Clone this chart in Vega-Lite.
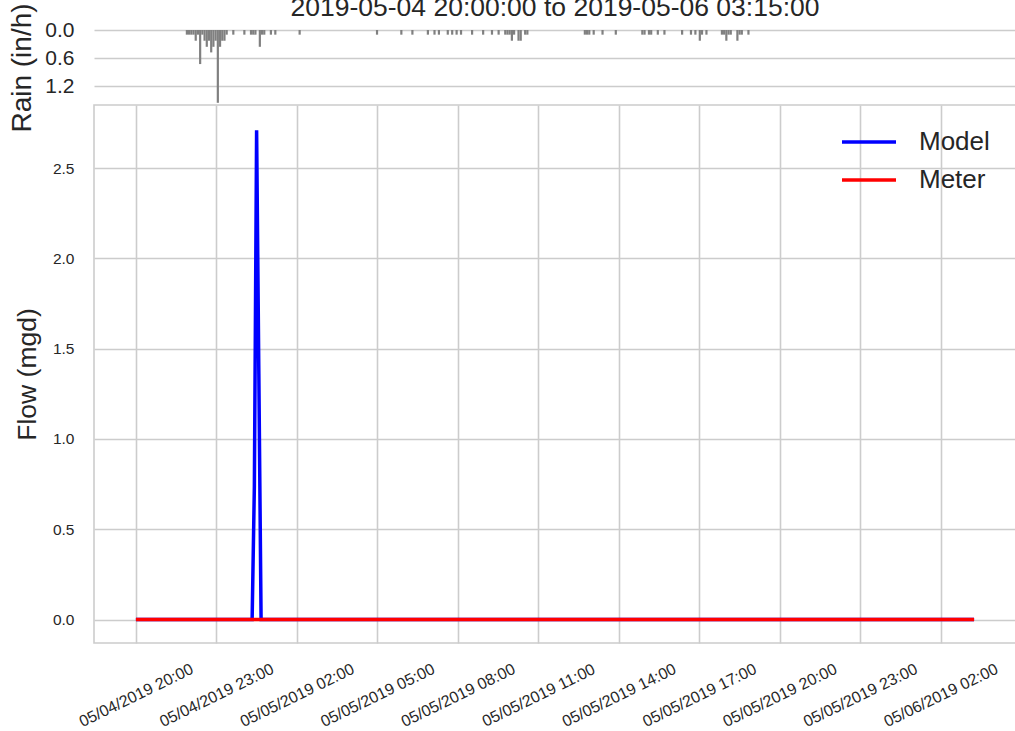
{
  "$schema": "https://vega.github.io/schema/vega-lite/v6.json",
  "padding": {"left": 8, "top": -5, "right": 0, "bottom": 0},
  "background": "white",
  "bounds": "flush",
  "spacing": 0,
  "config": {
    "font": "Liberation Sans",
    "view": {"stroke": null},
    "axis": {
      "labelColor": "#262626", "titleColor": "#262626", "gridColor": "#cccccc", "gridWidth": 1.6,
      "domain": false, "ticks": false, "tickSize": 0, "labelFont": "Liberation Sans", "titleFont": "Liberation Sans",
      "titleFontWeight": "normal"
    }
  },
  "datasets": {
    "flow": [
      {"t": "2019-05-04T20:00", "Model": 0, "Meter": 0},
      {"t": "2019-05-04T21:00", "Model": 0, "Meter": 0},
      {"t": "2019-05-04T22:00", "Model": 0, "Meter": 0},
      {"t": "2019-05-04T23:00", "Model": 0, "Meter": 0},
      {"t": "2019-05-05T00:00", "Model": 0, "Meter": 0},
      {"t": "2019-05-05T00:20", "Model": 0, "Meter": 0},
      {"t": "2019-05-05T00:25", "Model": 0.74, "Meter": 0},
      {"t": "2019-05-05T00:30", "Model": 2.71, "Meter": 0},
      {"t": "2019-05-05T00:35", "Model": 1.36, "Meter": 0},
      {"t": "2019-05-05T00:40", "Model": 0, "Meter": 0},
      {"t": "2019-05-05T01:00", "Model": 0, "Meter": 0},
      {"t": "2019-05-05T02:00", "Model": 0, "Meter": 0},
      {"t": "2019-05-05T03:00", "Model": 0, "Meter": 0},
      {"t": "2019-05-05T04:00", "Model": 0, "Meter": 0},
      {"t": "2019-05-05T05:00", "Model": 0, "Meter": 0},
      {"t": "2019-05-05T06:00", "Model": 0, "Meter": 0},
      {"t": "2019-05-05T07:00", "Model": 0, "Meter": 0},
      {"t": "2019-05-05T08:00", "Model": 0, "Meter": 0},
      {"t": "2019-05-05T09:00", "Model": 0, "Meter": 0},
      {"t": "2019-05-05T10:00", "Model": 0, "Meter": 0},
      {"t": "2019-05-05T11:00", "Model": 0, "Meter": 0},
      {"t": "2019-05-05T12:00", "Model": 0, "Meter": 0},
      {"t": "2019-05-05T13:00", "Model": 0, "Meter": 0},
      {"t": "2019-05-05T14:00", "Model": 0, "Meter": 0},
      {"t": "2019-05-05T15:00", "Model": 0, "Meter": 0},
      {"t": "2019-05-05T16:00", "Model": 0, "Meter": 0},
      {"t": "2019-05-05T17:00", "Model": 0, "Meter": 0},
      {"t": "2019-05-05T18:00", "Model": 0, "Meter": 0},
      {"t": "2019-05-05T19:00", "Model": 0, "Meter": 0},
      {"t": "2019-05-05T20:00", "Model": 0, "Meter": 0},
      {"t": "2019-05-05T21:00", "Model": 0, "Meter": 0},
      {"t": "2019-05-05T22:00", "Model": 0, "Meter": 0},
      {"t": "2019-05-05T23:00", "Model": 0, "Meter": 0},
      {"t": "2019-05-06T00:00", "Model": 0, "Meter": 0},
      {"t": "2019-05-06T01:00", "Model": 0, "Meter": 0},
      {"t": "2019-05-06T02:00", "Model": 0, "Meter": 0},
      {"t": "2019-05-06T03:00", "Model": 0, "Meter": 0},
      {"t": "2019-05-06T03:15", "Model": 0, "Meter": 0}
    ],
    "rain": [
      {"t": "2019-05-04T21:45", "r": 0.1},
      {"t": "2019-05-04T21:50", "r": 0.1},
      {"t": "2019-05-04T21:55", "r": 0.1},
      {"t": "2019-05-04T22:00", "r": 0.1},
      {"t": "2019-05-04T22:05", "r": 0.23},
      {"t": "2019-05-04T22:10", "r": 0.1},
      {"t": "2019-05-04T22:15", "r": 0.73},
      {"t": "2019-05-04T22:20", "r": 0.1},
      {"t": "2019-05-04T22:25", "r": 0.23},
      {"t": "2019-05-04T22:30", "r": 0.36},
      {"t": "2019-05-04T22:35", "r": 0.23},
      {"t": "2019-05-04T22:40", "r": 0.48},
      {"t": "2019-05-04T22:45", "r": 0.36},
      {"t": "2019-05-04T22:50", "r": 0.23},
      {"t": "2019-05-04T22:55", "r": 1.56},
      {"t": "2019-05-04T23:00", "r": 0.36},
      {"t": "2019-05-04T23:05", "r": 0.23},
      {"t": "2019-05-04T23:10", "r": 0.23},
      {"t": "2019-05-04T23:15", "r": 0.1},
      {"t": "2019-05-04T23:30", "r": 0.1},
      {"t": "2019-05-04T23:55", "r": 0.1},
      {"t": "2019-05-05T00:10", "r": 0.1},
      {"t": "2019-05-05T00:15", "r": 0.1},
      {"t": "2019-05-05T00:20", "r": 0.1},
      {"t": "2019-05-05T00:30", "r": 0.36},
      {"t": "2019-05-05T00:35", "r": 0.1},
      {"t": "2019-05-05T00:40", "r": 0.1},
      {"t": "2019-05-05T00:55", "r": 0.1},
      {"t": "2019-05-05T01:05", "r": 0.1},
      {"t": "2019-05-05T02:00", "r": 0.1},
      {"t": "2019-05-05T04:55", "r": 0.1},
      {"t": "2019-05-05T05:50", "r": 0.1},
      {"t": "2019-05-05T06:15", "r": 0.1},
      {"t": "2019-05-05T06:50", "r": 0.1},
      {"t": "2019-05-05T07:05", "r": 0.1},
      {"t": "2019-05-05T07:15", "r": 0.1},
      {"t": "2019-05-05T07:35", "r": 0.1},
      {"t": "2019-05-05T07:45", "r": 0.1},
      {"t": "2019-05-05T07:55", "r": 0.1},
      {"t": "2019-05-05T08:05", "r": 0.1},
      {"t": "2019-05-05T08:30", "r": 0.1},
      {"t": "2019-05-05T08:55", "r": 0.1},
      {"t": "2019-05-05T09:15", "r": 0.1},
      {"t": "2019-05-05T09:30", "r": 0.1},
      {"t": "2019-05-05T09:45", "r": 0.1},
      {"t": "2019-05-05T09:50", "r": 0.1},
      {"t": "2019-05-05T09:55", "r": 0.1},
      {"t": "2019-05-05T10:00", "r": 0.23},
      {"t": "2019-05-05T10:05", "r": 0.1},
      {"t": "2019-05-05T10:15", "r": 0.23},
      {"t": "2019-05-05T10:20", "r": 0.23},
      {"t": "2019-05-05T10:30", "r": 0.1},
      {"t": "2019-05-05T10:35", "r": 0.1},
      {"t": "2019-05-05T12:45", "r": 0.1},
      {"t": "2019-05-05T12:50", "r": 0.1},
      {"t": "2019-05-05T12:55", "r": 0.1},
      {"t": "2019-05-05T13:05", "r": 0.1},
      {"t": "2019-05-05T13:25", "r": 0.1},
      {"t": "2019-05-05T13:55", "r": 0.1},
      {"t": "2019-05-05T14:55", "r": 0.1},
      {"t": "2019-05-05T15:00", "r": 0.1},
      {"t": "2019-05-05T15:10", "r": 0.1},
      {"t": "2019-05-05T15:15", "r": 0.1},
      {"t": "2019-05-05T15:30", "r": 0.1},
      {"t": "2019-05-05T15:45", "r": 0.1},
      {"t": "2019-05-05T16:25", "r": 0.1},
      {"t": "2019-05-05T16:45", "r": 0.1},
      {"t": "2019-05-05T16:55", "r": 0.1},
      {"t": "2019-05-05T17:05", "r": 0.23},
      {"t": "2019-05-05T17:10", "r": 0.1},
      {"t": "2019-05-05T17:20", "r": 0.1},
      {"t": "2019-05-05T17:55", "r": 0.1},
      {"t": "2019-05-05T18:00", "r": 0.1},
      {"t": "2019-05-05T18:05", "r": 0.23},
      {"t": "2019-05-05T18:10", "r": 0.1},
      {"t": "2019-05-05T18:15", "r": 0.1},
      {"t": "2019-05-05T18:30", "r": 0.23},
      {"t": "2019-05-05T18:35", "r": 0.1},
      {"t": "2019-05-05T18:40", "r": 0.1},
      {"t": "2019-05-05T18:55", "r": 0.1}
    ]
  },
  "vconcat": [
    {
      "width": 922,
      "height": 75,
      "title": {"text": "2019-05-04 20:00:00 to 2019-05-06 03:15:00", "fontSize": 26.5, "fontWeight": "normal", "color": "#262626", "baseline": "alphabetic", "offset": -40, "anchor": "middle", "font": "Liberation Sans"},
      "data": {"name": "rain"},
      "mark": {"type": "bar", "color": "#808080", "size": 2.2},
      "encoding": {
        "x": {"field": "t", "type": "temporal",
          "scale": {"domain": [{"year": 2019, "month": 5, "date": 4, "hours": 18, "minutes": 26, "seconds": 15}, {"year": 2019, "month": 5, "date": 6, "hours": 4, "minutes": 48, "seconds": 45}]},
          "axis": null},
        "y": {"field": "r", "type": "quantitative",
          "scale": {"domain": [0, 1.607], "reverse": true, "nice": false, "zero": false},
          "axis": {"values": [0, 0.6, 1.2], "format": ".1f", "labelFontSize": 21, "labelPadding": 20, "labelAlign": "right", "labelBaseline": "middle",
            "title": "Rain (in/h)", "titleFontSize": 28, "titleX": -64, "titleBaseline": "alphabetic"}}
      }
    },
    {
      "width": 922,
      "height": 538,
      "view": {"stroke": "#cccccc", "strokeWidth": 1.6},
      "data": {"name": "flow"},
      "transform": [{"fold": ["Model", "Meter"], "as": ["series", "v"]}],
      "encoding": {
        "x": {"field": "t", "type": "temporal",
          "scale": {"domain": [{"year": 2019, "month": 5, "date": 4, "hours": 18, "minutes": 26, "seconds": 15}, {"year": 2019, "month": 5, "date": 6, "hours": 4, "minutes": 48, "seconds": 45}]},
          "axis": {"values": [
            {"year": 2019, "month": 5, "date": 4, "hours": 20},
            {"year": 2019, "month": 5, "date": 4, "hours": 23},
            {"year": 2019, "month": 5, "date": 5, "hours": 2},
            {"year": 2019, "month": 5, "date": 5, "hours": 5},
            {"year": 2019, "month": 5, "date": 5, "hours": 8},
            {"year": 2019, "month": 5, "date": 5, "hours": 11},
            {"year": 2019, "month": 5, "date": 5, "hours": 14},
            {"year": 2019, "month": 5, "date": 5, "hours": 17},
            {"year": 2019, "month": 5, "date": 5, "hours": 20},
            {"year": 2019, "month": 5, "date": 5, "hours": 23},
            {"year": 2019, "month": 5, "date": 6, "hours": 2}],
            "format": "%m/%d/%Y %H:%M", "labelAngle": -26, "labelAlign": "center", "labelBaseline": "middle",
            "labelPadding": 52, "labelFontSize": 16, "labelOverlap": false, "title": null, "grid": true}},
        "y": {"field": "v", "type": "quantitative",
          "scale": {"domain": [-0.13, 2.85], "nice": false, "zero": false},
          "axis": {"values": [0, 0.5, 1, 1.5, 2, 2.5], "format": ".1f", "labelFontSize": 15.5, "labelPadding": 20,
            "title": "Flow (mgd)", "titleFontSize": 26.5, "titleX": -59, "titleBaseline": "alphabetic"}},
        "color": {"field": "series", "type": "nominal",
          "scale": {"domain": ["Model", "Meter"], "range": ["#0000ff", "#ff0000"]},
          "legend": {"title": null, "orient": "none", "legendX": 746, "legendY": 94, "symbolType": "stroke", "symbolSize": 2916,
            "symbolStrokeWidth": 3.5, "labelFontSize": 26, "labelColor": "#262626", "labelOffset": 21, "clipHeight": 36, "rowPadding": 2, "padding": 0}}
      },
      "layer": [
        {"transform": [{"filter": "datum.series === 'Model'"}], "mark": {"type": "line", "strokeWidth": 3.5}},
        {"transform": [{"filter": "datum.series === 'Meter'"}], "mark": {"type": "line", "strokeWidth": 3.5}}
      ]
    }
  ]
}
